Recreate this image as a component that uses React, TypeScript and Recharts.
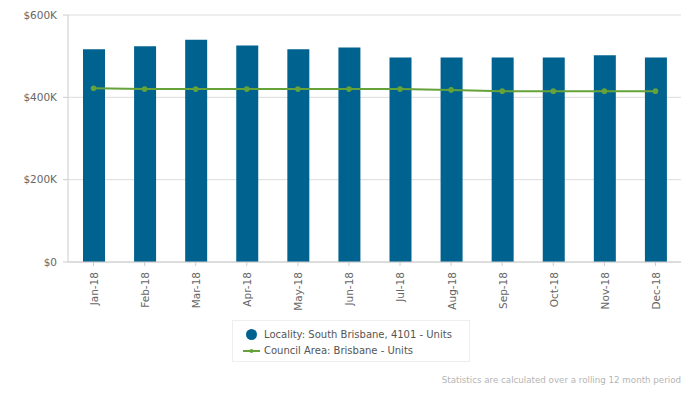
import { ComposedChart, Bar, Line, XAxis, YAxis, CartesianGrid } from 'recharts'

const months = ['Jan-18', 'Feb-18', 'Mar-18', 'Apr-18', 'May-18', 'Jun-18', 'Jul-18', 'Aug-18', 'Sep-18', 'Oct-18', 'Nov-18', 'Dec-18']
const localityUnits = [517000, 524000, 540000, 526000, 517000, 521000, 497000, 497000, 497000, 497000, 502000, 497000]
const councilUnits = [422000, 420000, 420000, 420000, 420000, 420000, 420000, 418000, 415000, 415000, 415000, 415000]
const majorTicks = [0, 200000, 400000, 600000]
const minorTicks = [0, 40000, 80000, 120000, 160000, 200000, 240000, 280000, 320000, 360000, 400000, 440000, 480000, 520000, 560000, 600000]

const BLUE = '#00638f'
const GREEN = '#66a23a'
const FONT = '"DejaVu Sans", Verdana, sans-serif'

const data = months.map((m, i) => ({ month: m, locality: localityUnits[i], council: councilUnits[i] }))

const money = (v: number) => (v === 0 ? '$0' : `$${v / 1000}K`)

export default function App() {
  return (
    <div style={{ position: 'relative', width: 682, height: 385, fontFamily: FONT }}>
      <ComposedChart width={682} height={310} data={data} margin={{ top: 7, right: 9, bottom: 6, left: 0 }}>
        <CartesianGrid vertical={false} stroke="#dcdcdc" yAxisId="main" />
        <XAxis
          dataKey="month"
          height={50}
          interval={0}
          angle={-90}
          textAnchor="end"
          tickSize={4}
          tickMargin={6}
          stroke="#ccc"
          tick={{ fontSize: 10.5, fill: '#666', fontFamily: FONT, dx: -3 }}
        />
        <YAxis
          yAxisId="main"
          width={60}
          domain={[0, 600000]}
          ticks={majorTicks}
          tickFormatter={money}
          tickSize={5}
          tickMargin={6}
          stroke="#ccc"
          tick={{ fontSize: 10.5, fill: '#666', fontFamily: FONT }}
        />
        <YAxis
          yAxisId="minor"
          width={0}
          domain={[0, 600000]}
          ticks={minorTicks}
          tick={false}
          axisLine={false}
          tickSize={3}
          stroke="#ccc"
        />
        <Bar yAxisId="main" dataKey="locality" fill={BLUE} barSize={22} isAnimationActive={false} />
        <Line
          yAxisId="main"
          type="linear"
          dataKey="council"
          stroke={GREEN}
          strokeWidth={2}
          dot={{ r: 1.8, fill: GREEN, stroke: GREEN }}
          isAnimationActive={false}
        />
      </ComposedChart>

      <div
        style={{
          position: 'absolute',
          left: 224,
          top: 312,
          width: 238,
          height: 42,
          border: '1px solid #eee',
          fontSize: 10,
          color: '#555',
          boxSizing: 'border-box',
        }}
      >
        <div style={{ position: 'absolute', left: 13, top: 8, display: 'flex', alignItems: 'center' }}>
          <span style={{ display: 'inline-block', width: 11, height: 11, borderRadius: '50%', background: BLUE, marginRight: 7 }} />
          <span>Locality: South Brisbane, 4101 - Units</span>
        </div>
        <div style={{ position: 'absolute', left: 10, top: 24, display: 'flex', alignItems: 'center' }}>
          <svg width={17} height={8} style={{ marginRight: 4 }}>
            <line x1={0} y1={4} x2={17} y2={4} stroke={GREEN} strokeWidth={2} />
            <circle cx={8.5} cy={4} r={2} fill={GREEN} />
          </svg>
          <span>Council Area: Brisbane - Units</span>
        </div>
      </div>

      <div style={{ position: 'absolute', right: 9, top: 367, fontSize: 8.7, color: '#b5b5b5' }}>
        Statistics are calculated over a rolling 12 month period
      </div>
    </div>
  )
}
